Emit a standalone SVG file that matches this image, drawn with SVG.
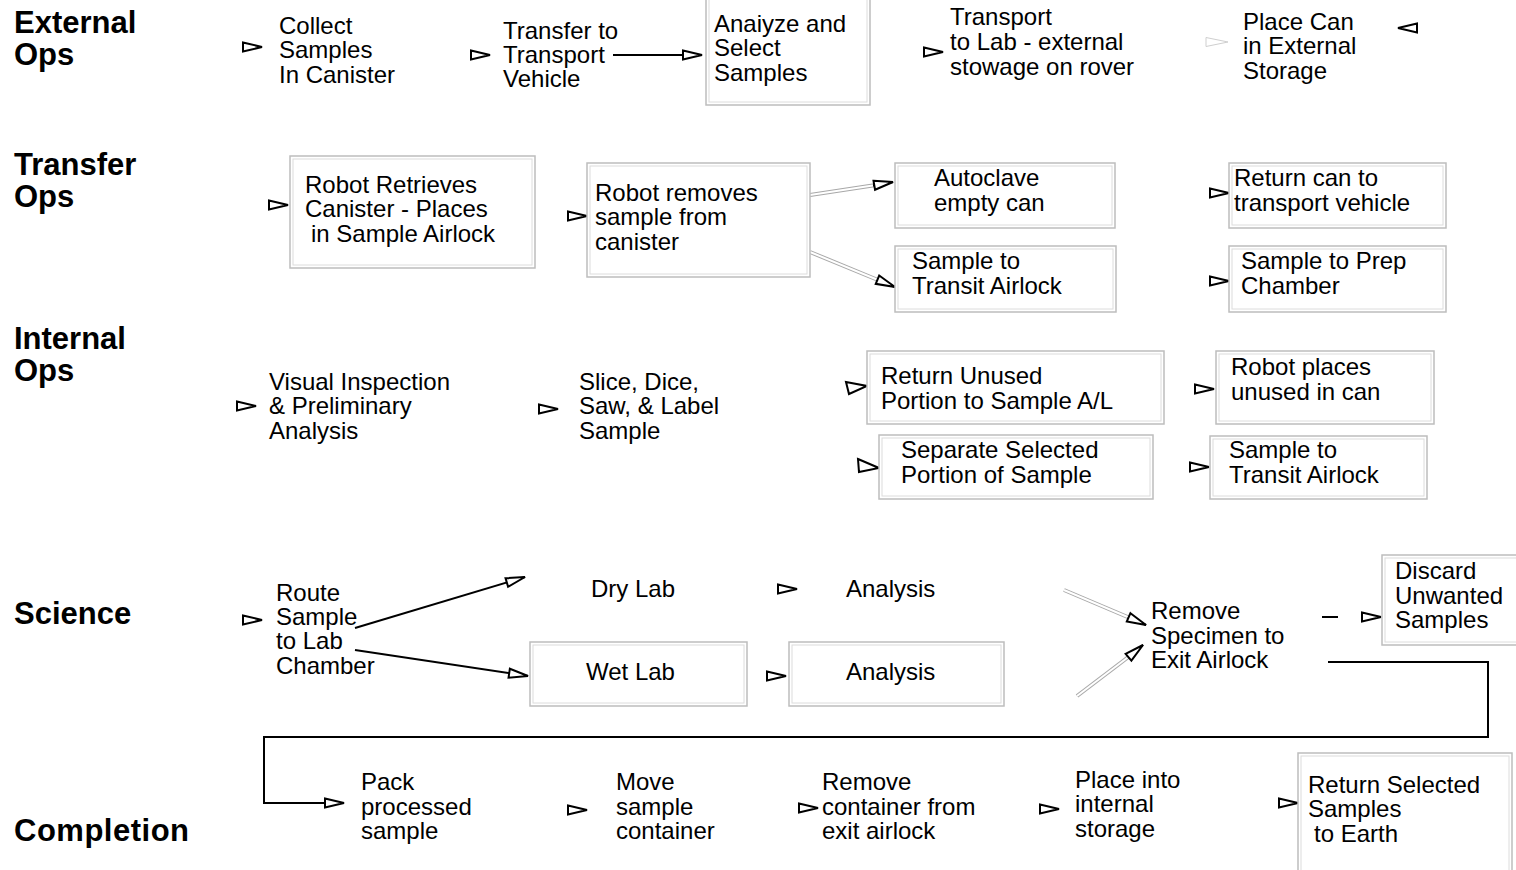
<svg xmlns="http://www.w3.org/2000/svg" xmlns:xlink="http://www.w3.org/1999/xlink" width="1516" height="870" viewBox="0 0 1516 870">
<style>
text{font-family:"Liberation Sans",Arial,sans-serif;font-size:24px;fill:#000}
.hd{font-weight:bold;font-size:31px}
.bo{fill:#fff;stroke:#bdbdbd;stroke-width:1.5}
.bi{fill:none;stroke:#dcdcdc;stroke-width:1}
.head{fill:#fff;stroke:#000;stroke-width:2;stroke-linejoin:miter}
.ln{fill:none;stroke:#000;stroke-width:2}
.dg{fill:none;stroke:#a8a8a8;stroke-width:4}
.dw{fill:none;stroke:#fff;stroke-width:2}
</style>
<defs>
<path id="h" d="M-19,-4.5 L0,0 L-19,4.5 Z"/>
<marker id="m" markerUnits="userSpaceOnUse" markerWidth="24" markerHeight="14" refX="20" refY="6" orient="auto" viewBox="-1 -1 22 14">
<path d="M1,1.5 L20,6 L1,10.5 Z" fill="#fff" stroke="#000" stroke-width="2"/>
</marker>
</defs>
<rect width="1516" height="870" fill="#fff"/>

<g id="headings">
<text class="hd" x="14" y="33">External<tspan x="14" y="65">Ops</tspan></text>
<text class="hd" x="14" y="175">Transfer<tspan x="14" y="207">Ops</tspan></text>
<text class="hd" x="14" y="349">Internal<tspan x="14" y="381">Ops</tspan></text>
<text class="hd" x="14" y="624">Science</text>
<text class="hd" x="14" y="841" textLength="175">Completion</text>
</g>

<g id="connectors">
<use xlink:href="#h" href="#h" class="head" x="262" y="47"/>
<use xlink:href="#h" href="#h" class="head" x="490" y="55"/>
<path class="ln" d="M613,55 H702" marker-end="url(#m)"/>
<use xlink:href="#h" href="#h" class="head" x="943" y="52"/>
<path d="M1206,37.5 L1228,42 L1206,46.5 Z" fill="none" stroke="#cfcfcf" stroke-width="1"/>
<path class="head" d="M1417,23.5 L1398,28 L1417,32.5 Z"/>

<use xlink:href="#h" href="#h" class="head" x="288" y="205"/>
<use xlink:href="#h" href="#h" class="head" x="587" y="216"/>
<path class="dg" d="M810,195 L876,185"/><path class="dw" d="M810,195 L876,185"/>
<path class="ln" d="M873,185.5 L893,182" marker-end="url(#m)" stroke="none"/>
<path class="dg" d="M810,252 L878,280"/><path class="dw" d="M810,252 L878,280"/>
<path class="ln" d="M877,279.5 L895,287" marker-end="url(#m)" stroke="none"/>
<use xlink:href="#h" href="#h" class="head" x="1229" y="193"/>
<use xlink:href="#h" href="#h" class="head" x="1229" y="281"/>

<use xlink:href="#h" href="#h" class="head" x="256" y="406"/>
<use xlink:href="#h" href="#h" class="head" x="558" y="409"/>
<path class="head" d="M846,382 L867,386 L849,394 Z"/>
<path class="head" d="M858,459 L879,468 L859,472 Z"/>
<use xlink:href="#h" href="#h" class="head" x="1214" y="389"/>
<use xlink:href="#h" href="#h" class="head" x="1209" y="467"/>

<use xlink:href="#h" href="#h" class="head" x="262" y="620"/>
<path class="ln" d="M355,628 L525,577" marker-end="url(#m)"/>
<path class="ln" d="M355,650 L528,676" marker-end="url(#m)"/>
<use xlink:href="#h" href="#h" class="head" x="797" y="589"/>
<use xlink:href="#h" href="#h" class="head" x="786" y="676"/>
<path class="dg" d="M1064,590 L1130,618"/><path class="dw" d="M1064,590 L1130,618"/>
<path class="ln" d="M1128,617 L1146,625" marker-end="url(#m)" stroke="none"/>
<path class="dg" d="M1077,696 L1131,655"/><path class="dw" d="M1077,696 L1131,655"/>
<path class="ln" d="M1130,656 L1143,645" marker-end="url(#m)" stroke="none"/>
<path class="ln" d="M1322,617 H1338"/>
<use xlink:href="#h" href="#h" class="head" x="1381" y="617"/>
<path class="ln" d="M1328,662 H1488 V737 H264 V803 H344" stroke-width="2.5" marker-end="url(#m)"/>

<use xlink:href="#h" href="#h" class="head" x="587" y="810"/>
<use xlink:href="#h" href="#h" class="head" x="818" y="808"/>
<use xlink:href="#h" href="#h" class="head" x="1059" y="809"/>
<use xlink:href="#h" href="#h" class="head" x="1298" y="803"/>
</g>

<g id="collect"><text x="279" y="34">Collect</text><text x="279" y="58">Samples</text><text x="279" y="83">In Canister</text></g>
<g id="transfer-vehicle"><text x="503" y="39">Transfer to</text><text x="503" y="63">Transport</text><text x="503" y="87">Vehicle</text></g>
<g id="analyze"><rect class="bo" x="706" y="-5" width="164" height="110"/><rect class="bi" x="709" y="-2" width="158" height="104"/>
<text x="714" y="32">Anaiyze and</text><text x="714" y="56">Select</text><text x="714" y="81">Samples</text></g>
<g id="transport-lab"><text x="950" y="25">Transport</text><text x="950" y="50">to Lab - external</text><text x="950" y="75">stowage on rover</text></g>
<g id="place-can"><text x="1243" y="30">Place Can</text><text x="1243" y="54">in External</text><text x="1243" y="79">Storage</text></g>

<g id="robot-retrieves"><rect class="bo" x="290" y="156" width="245" height="112"/><rect class="bi" x="293" y="159" width="239" height="106"/>
<text x="305" y="193">Robot Retrieves</text><text x="305" y="217">Canister - Places</text><text x="311" y="242">in Sample Airlock</text></g>
<g id="robot-removes"><rect class="bo" x="587" y="163" width="223" height="114"/><rect class="bi" x="590" y="166" width="217" height="108"/>
<text x="595" y="201">Robot removes</text><text x="595" y="225">sample from</text><text x="595" y="250">canister</text></g>
<g id="autoclave"><rect class="bo" x="895" y="163" width="220" height="65"/><rect class="bi" x="898" y="166" width="214" height="59"/>
<text x="934" y="186">Autoclave</text><text x="934" y="211">empty can</text></g>
<g id="transit-1"><rect class="bo" x="895" y="246" width="221" height="66"/><rect class="bi" x="898" y="249" width="215" height="60"/>
<text x="912" y="269">Sample to</text><text x="912" y="294">Transit Airlock</text></g>
<g id="return-can"><rect class="bo" x="1229" y="163" width="217" height="65"/><rect class="bi" x="1232" y="166" width="211" height="59"/>
<text x="1234" y="186">Return can to</text><text x="1234" y="211">transport vehicle</text></g>
<g id="prep"><rect class="bo" x="1229" y="246" width="217" height="66"/><rect class="bi" x="1232" y="249" width="211" height="60"/>
<text x="1241" y="269">Sample to Prep</text><text x="1241" y="294">Chamber</text></g>

<g id="visual"><text x="269" y="390">Visual Inspection</text><text x="269" y="414">&amp; Preliminary</text><text x="269" y="439">Analysis</text></g>
<g id="slice"><text x="579" y="390">Slice, Dice,</text><text x="579" y="414">Saw, &amp; Label</text><text x="579" y="439">Sample</text></g>
<g id="return-unused"><rect class="bo" x="867" y="351" width="297" height="73"/><rect class="bi" x="870" y="354" width="291" height="67"/>
<text x="881" y="384">Return Unused</text><text x="881" y="409">Portion to Sample A/L</text></g>
<g id="robot-places"><rect class="bo" x="1216" y="351" width="218" height="73"/><rect class="bi" x="1219" y="354" width="212" height="67"/>
<text x="1231" y="375">Robot places</text><text x="1231" y="400">unused in can</text></g>
<g id="separate"><rect class="bo" x="879" y="435" width="274" height="64"/><rect class="bi" x="882" y="438" width="268" height="58"/>
<text x="901" y="458">Separate Selected</text><text x="901" y="483">Portion of Sample</text></g>
<g id="transit-2"><rect class="bo" x="1210" y="436" width="217" height="63"/><rect class="bi" x="1213" y="439" width="211" height="57"/>
<text x="1229" y="458">Sample to</text><text x="1229" y="483">Transit Airlock</text></g>

<g id="route"><text x="276" y="601">Route</text><text x="276" y="625">Sample</text><text x="276" y="649">to Lab</text><text x="276" y="674">Chamber</text></g>
<g id="dry-lab"><text x="591" y="597">Dry Lab</text></g>
<g id="analysis-1"><text x="846" y="597">Analysis</text></g>
<g id="wet-lab"><rect class="bo" x="530" y="642" width="217" height="64"/><rect class="bi" x="533" y="645" width="211" height="58"/>
<text x="586" y="680">Wet Lab</text></g>
<g id="analysis-2"><rect class="bo" x="789" y="642" width="215" height="64"/><rect class="bi" x="792" y="645" width="209" height="58"/>
<text x="846" y="680">Analysis</text></g>
<g id="remove-specimen"><text x="1151" y="619">Remove</text><text x="1151" y="644">Specimen to</text><text x="1151" y="668">Exit Airlock</text></g>
<g id="discard"><rect class="bo" x="1382" y="555" width="140" height="90"/><rect class="bi" x="1385" y="558" width="134" height="84"/>
<text x="1395" y="579">Discard</text><text x="1395" y="604">Unwanted</text><text x="1395" y="628">Samples</text></g>

<g id="pack"><text x="361" y="790">Pack</text><text x="361" y="815">processed</text><text x="361" y="839">sample</text></g>
<g id="move"><text x="616" y="790">Move</text><text x="616" y="815">sample</text><text x="616" y="839">container</text></g>
<g id="remove-container"><text x="822" y="790">Remove</text><text x="822" y="815">container from</text><text x="822" y="839">exit airlock</text></g>
<g id="place-into"><text x="1075" y="788">Place into</text><text x="1075" y="812">internal</text><text x="1075" y="837">storage</text></g>
<g id="return-earth"><rect class="bo" x="1298" y="753" width="214" height="125"/><rect class="bi" x="1301" y="756" width="208" height="119"/>
<text x="1308" y="793">Return Selected</text><text x="1308" y="817">Samples</text><text x="1314" y="842">to Earth</text></g>
</svg>
